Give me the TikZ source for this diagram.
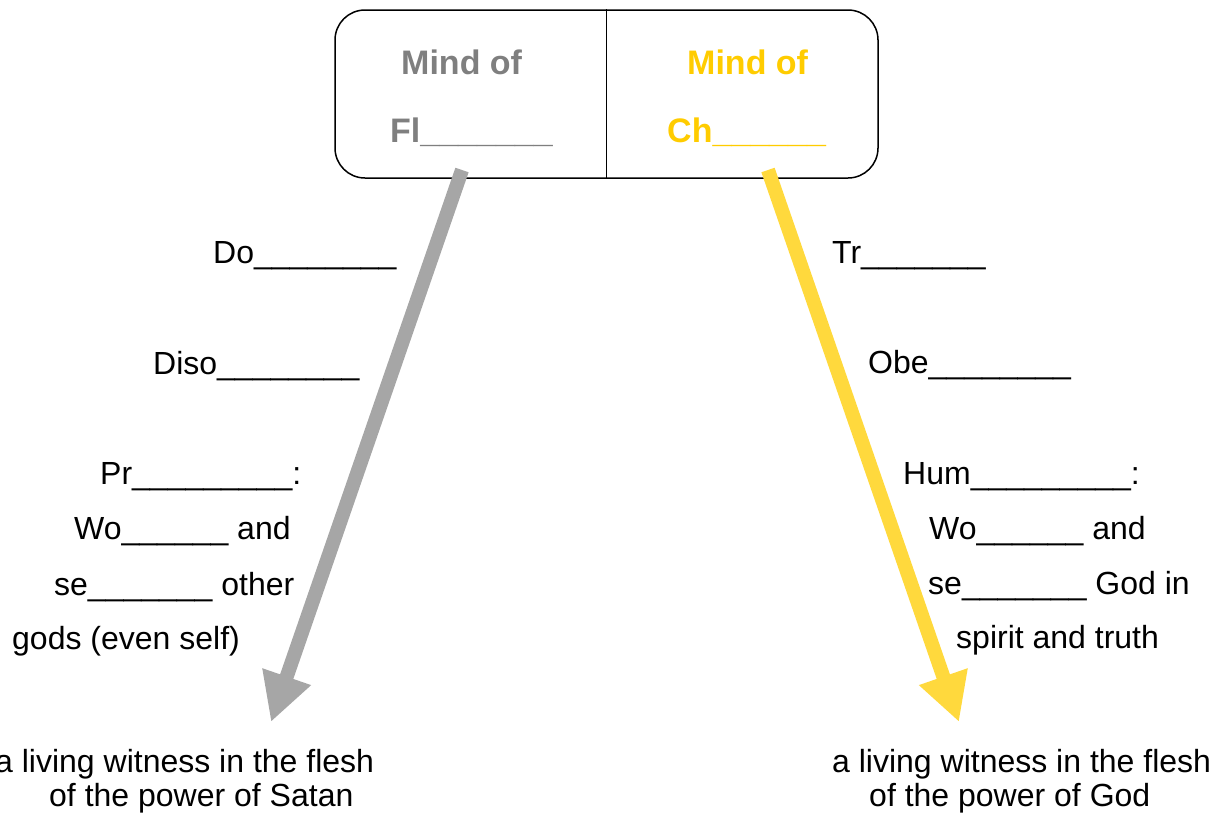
\documentclass[tikz,border=0pt]{standalone}
\usepackage{fontspec}
\setmainfont{Liberation Sans}
\usetikzlibrary{arrows.meta}
\definecolor{boxgray}{RGB}{127,127,127}
\definecolor{boxyellow}{RGB}{255,204,0}
\definecolor{arrgray}{RGB}{166,166,166}
\definecolor{arryellow}{RGB}{255,217,61}
\tikzset{
  lbl/.style={anchor=base west, inner sep=0pt, font=\fontsize{32}{38}\selectfont},
  boxtxt/.style={anchor=base west, inner sep=0pt, font=\bfseries\fontsize{34}{40}\selectfont},
  bigarrow/.style={line width=14pt, -{Triangle[length=48pt, width=48pt]}},
}
\begin{document}
\begin{tikzpicture}[x=1pt, y=-1pt]
\useasboundingbox (0,0) rectangle (1223,812);
% box
\node[draw, line width=1.5pt, rounded corners=30pt, minimum width=543pt, minimum height=168pt, inner sep=0pt] (box) at (606.5,94) {};
\draw[line width=1.5pt] (box.north) -- (box.south);
\node[boxtxt, text=boxgray] (gmind) at (401,74) {Mind of};
\node[boxtxt, text=boxgray] (gfl) at (390,142) {Fl\_\_\_\_\_\_\_};
\node[boxtxt, text=boxyellow] (ymind) at (687,74) {Mind of};
\node[boxtxt, text=boxyellow] (ych) at (667,142) {Ch\_\_\_\_\_\_};
% arrows
\coordinate (gs) at (462,170);
\coordinate (ge) at (271,722);
\coordinate (ys) at (768,170);
\coordinate (ye) at (959,722);
\draw[bigarrow, arrgray] (gs) -- (ge);
\draw[bigarrow, arryellow] (ys) -- (ye);
% left labels
\node[lbl] (l1) at (213,263) {Do\_\_\_\_\_\_\_\_};
\node[lbl] (l2) at (153,374) {Diso\_\_\_\_\_\_\_\_};
\node[lbl] (l3) at (100,484) {Pr\_\_\_\_\_\_\_\_\_:};
\node[lbl] (l4) at (74,539) {Wo\_\_\_\_\_\_ and};
\node[lbl] (l5) at (54,595) {se\_\_\_\_\_\_\_ other};
\node[lbl] (l6) at (12,649) {gods (even self)};
% right labels
\node[lbl] (r1) at (832,263) {Tr\_\_\_\_\_\_\_};
\node[lbl] (r2) at (868,373) {Obe\_\_\_\_\_\_\_\_};
\node[lbl] (r3) at (903,484) {Hum\_\_\_\_\_\_\_\_\_:};
\node[lbl] (r4) at (929,539) {Wo\_\_\_\_\_\_ and};
\node[lbl] (r5) at (928,594) {se\_\_\_\_\_\_\_ God in};
\node[lbl] (r6) at (956,648) {spirit and truth};
% bottom
\node[lbl] (b1) at (-5,772) {a living witness in the flesh};
\node[lbl] (b2) at (49,806) {of the power of Satan};
\node[lbl] (b3) at (832,772) {a living witness in the flesh};
\node[lbl] (b4) at (869,806) {of the power of God};
\end{tikzpicture}
\end{document}
